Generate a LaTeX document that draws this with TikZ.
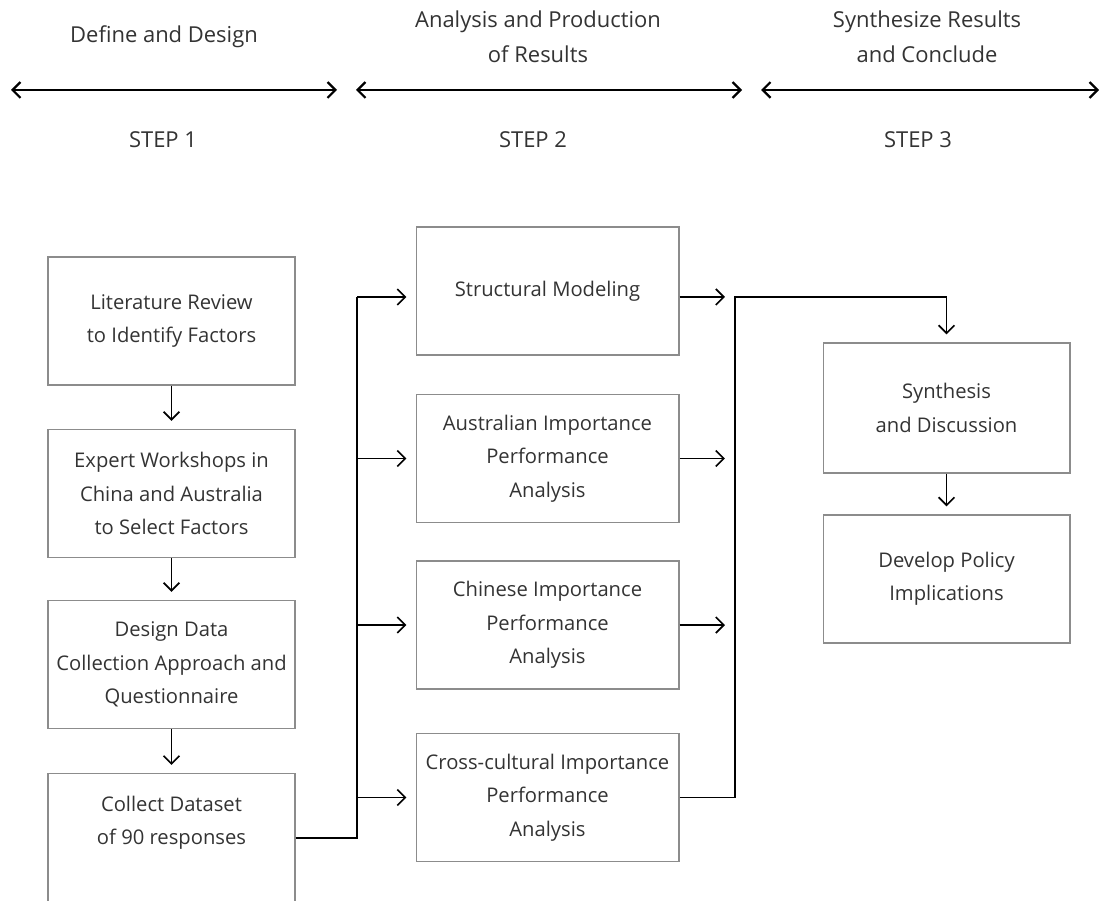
\documentclass[tikz,border=0pt]{standalone}
\usepackage{fontspec}
\setmainfont{Open Sans}
\usetikzlibrary{arrows.meta,calc}
\begin{document}
\begin{tikzpicture}[x=0.02cm,y=-0.02cm,
  txt/.style={font=\fontsize{11.5}{19}\selectfont,text=black!80,align=center},
  head/.style={txt,font=\fontsize{12.5}{20}\selectfont},
  stepbox/.style={txt,draw=black!45,line width=0.6pt,minimum width=4.94cm,minimum height=2.56cm,inner sep=0pt},
  widebox/.style={stepbox,minimum width=5.26cm},
  link/.style={line width=0.75pt,-{Straight Barb[length=4.5pt,width=9pt,line width=1pt]}},
  wire/.style={line width=0.75pt},
  phase/.style={line width=1.3pt,{Straight Barb[length=4.5pt,width=9pt]}-{Straight Barb[length=4.5pt,width=9pt]}}]
\useasboundingbox (0,0) rectangle (1101,901);
\clip (0,0) rectangle (1101,901);
% phases
\node[head] (h1) at (164,37) {Define and Design};
\node[head] (h2) at (538,37) {Analysis and Production\\of Results};
\node[head] (h3) at (927,37) {Synthesize Results\\and Conclude};
\draw[phase] (11,90) -- (337,90);
\draw[phase] (356,90) -- (742,90);
\draw[phase] (761,90) -- (1099,90);
\node[head] (s1) at (163,140) {STEP 1};
\node[head] (s2) at (533,140) {STEP 2};
\node[head] (s3) at (918,140) {STEP 3};
% step 1
\node[stepbox] (lit) at (171.5,321) {Literature Review\\to Identify Factors};
\node[stepbox] (expert) at (171.5,493.5) {Expert Workshops in\\China and Australia\\to Select Factors};
\node[stepbox] (design) at (171.5,664.5) {Design Data\\Collection Approach and\\Questionnaire};
% last box runs off the bottom edge
\node[stepbox,minimum height=3cm,anchor=north] (collect) at (171.5,773) {};
\node[txt] (collecttxt) at (171.5,823) {Collect Dataset\\of 90 responses};
\coordinate (out) at ($(collect.north east)!0.43!(collect.south east)$);
\draw[link,shorten >=8pt*0.57] (lit) -- (expert);
\draw[link,shorten >=8pt*0.57] (expert) -- (design);
\draw[link,shorten >=8pt*0.57] (design) -- (collect);
% step 2
\node[widebox] (struct) at (547.5,291) {Structural Modeling};
\node[widebox] (aus) at (547.5,458.5) {Australian Importance\\Performance\\Analysis};
\node[widebox] (chn) at (547.5,625) {Chinese Importance\\Performance\\Analysis};
\node[widebox] (cross) at (547.5,797.5) {Cross-cultural Importance\\Performance\\Analysis};
\coordinate (busL) at (357,297);
\draw[wire] (out) -| (busL);
\draw[link,shorten >=9pt*0.57] (busL) -- (busL -| struct.west);
\draw[link,shorten >=9pt*0.57] (busL |- aus.west) -- (aus.west);
\draw[link,shorten >=9pt*0.57] (busL |- chn.west) -- (chn.west);
\draw[link,shorten >=9pt*0.57] (busL |- cross.west) -- (cross.west);
% step 3
\node[stepbox,minimum height=2.6cm] (synth) at (946.5,408) {Synthesis\\and Discussion};
\node[stepbox] (policy) at (946.5,579) {Develop Policy\\Implications};
\coordinate (busR) at (735,297);
\draw[link,shorten >=10pt*0.57] (busR -| struct.east) -- (busR);
\draw[link,shorten >=10pt*0.57] (aus.east) -- (aus.east -| busR);
\draw[link,shorten >=10pt*0.57] (chn.east) -- (chn.east -| busR);
\draw[link,shorten >=8pt*0.57] (cross.east) -| (busR) -| (synth.north);
\draw[link,shorten >=8pt*0.57] (synth) -- (policy);
\end{tikzpicture}
\end{document}
